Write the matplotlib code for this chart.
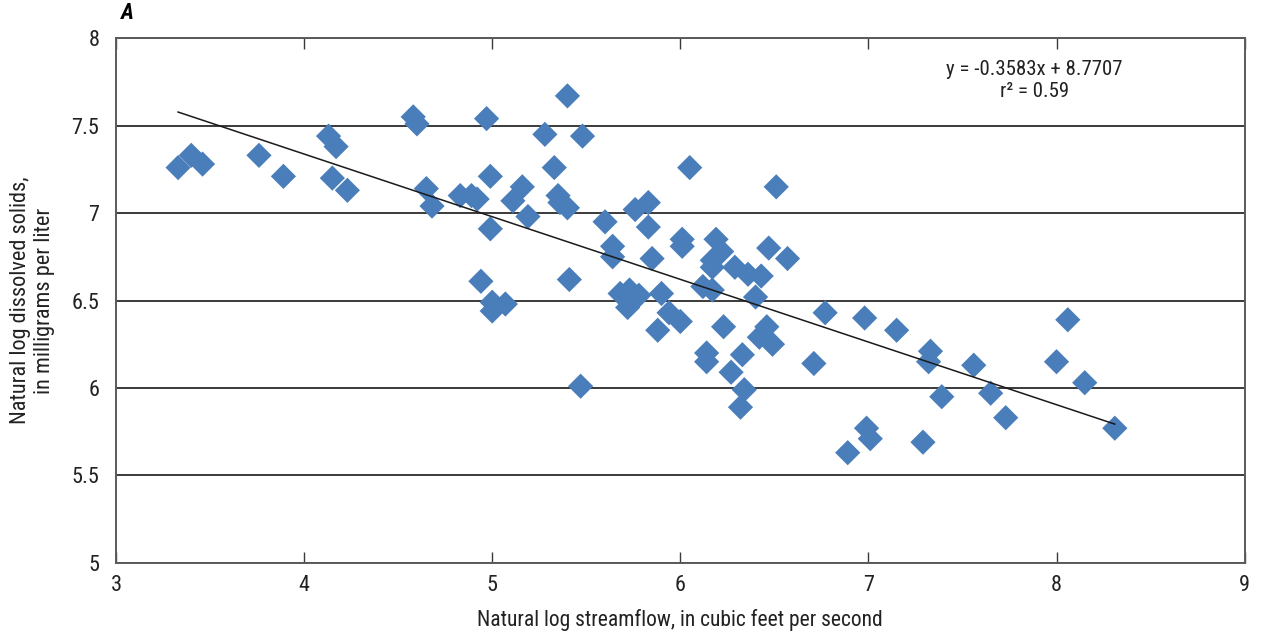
import matplotlib
matplotlib.use("Agg")
import matplotlib.pyplot as plt
from matplotlib import font_manager
import numpy as np

# the original uses a condensed sans, look for one that is installed
narrow = None
for f in font_manager.fontManager.ttflist:
    if f.name in ('Liberation Sans Narrow', 'Roboto Condensed', 'Open Sans Condensed',
                  'Noto Sans Condensed', 'DejaVu Sans Condensed'):
        narrow = (f.name, 'normal')
        break
if narrow is None:
    for f in font_manager.fontManager.ttflist:
        if f.stretch in ('condensed', 'semi-condensed') and f.name in ('DejaVu Sans', 'Roboto', 'Noto Sans', 'Open Sans'):
            narrow = (f.name, 'condensed')
            break
if narrow is None:
    narrow = ('DejaVu Sans', 'normal')
plt.rcParams['font.family'] = [narrow[0], 'DejaVu Sans']
plt.rcParams['font.stretch'] = narrow[1]

# natural log streamflow (x) and natural log dissolved solids (y)
ln_flow = [3.33, 3.40, 3.46, 3.76, 3.89, 4.13, 4.17, 4.15, 4.23, 4.58,
           4.60, 4.65, 4.68, 4.83, 4.89, 4.92, 4.97, 4.99, 4.99, 4.94,
           5.00, 5.00, 5.07, 5.40, 5.28, 5.48, 5.33, 6.05, 6.51, 5.16,
           5.11, 5.19, 5.35, 5.36, 5.40, 5.60, 5.76, 5.83, 5.83, 5.64,
           5.64, 5.85, 6.01, 6.01, 6.19, 6.22, 6.17, 6.17, 6.29, 6.36,
           6.43, 6.47, 6.57, 6.40, 6.12, 6.17, 5.41, 5.68, 5.73, 5.78,
           5.72, 5.90, 5.94, 6.00, 5.88, 6.23, 6.46, 6.42, 6.49, 6.14,
           6.14, 6.33, 6.27, 6.34, 6.32, 6.71, 6.77, 5.47, 6.98, 7.15,
           7.33, 7.32, 7.56, 7.39, 7.65, 7.73, 8.00, 8.06, 8.15, 8.31,
           6.99, 7.01, 6.89, 7.29]
ln_tds = [7.26, 7.33, 7.28, 7.33, 7.21, 7.44, 7.38, 7.20, 7.13, 7.55,
          7.51, 7.14, 7.04, 7.10, 7.10, 7.08, 7.54, 7.21, 6.91, 6.61,
          6.49, 6.44, 6.48, 7.67, 7.45, 7.44, 7.26, 7.26, 7.15, 7.15,
          7.07, 6.98, 7.10, 7.06, 7.03, 6.95, 7.02, 7.06, 6.92, 6.81,
          6.75, 6.74, 6.85, 6.81, 6.85, 6.78, 6.73, 6.69, 6.69, 6.65,
          6.64, 6.80, 6.74, 6.52, 6.58, 6.56, 6.62, 6.54, 6.56, 6.53,
          6.46, 6.54, 6.43, 6.38, 6.33, 6.35, 6.35, 6.29, 6.25, 6.20,
          6.15, 6.19, 6.09, 5.99, 5.89, 6.14, 6.43, 6.01, 6.40, 6.33,
          6.21, 6.15, 6.13, 5.95, 5.97, 5.83, 6.15, 6.39, 6.03, 5.77,
          5.77, 5.71, 5.63, 5.69]

slope = -0.3583
intercept = 8.7707
r2 = 0.59

fig = plt.figure(figsize=(12.61, 6.36), dpi=100)
ax = fig.add_axes([0.092, 0.115, 0.895, 0.825])

ax.scatter(ln_flow, ln_tds, marker='D', s=165, color='#4a7ebb',
           edgecolors='none', zorder=3)

xl = np.array([min(ln_flow), max(ln_flow)])
ax.plot(xl, slope * xl + intercept, color='#1a1a1a', lw=1.1, zorder=4)

ax.set_xlim(3, 9)
ax.set_ylim(5, 8)
ax.set_xticks(range(3, 10))
ax.set_yticks([5, 5.5, 6, 6.5, 7, 7.5, 8])
ax.set_yticklabels(['5', '5.5', '6', '6.5', '7', '7.5', '8'])
ax.grid(axis='y', color='#3a3a3a', lw=1.4, zorder=1)
ax.tick_params(axis='x', direction='in', length=8, top=True, width=1,
               color='#3a3a3a', labelsize=16, pad=9, labelcolor='#222222')
ax.tick_params(axis='y', length=0, labelsize=16, pad=12, labelcolor='#222222')
for s in ax.spines.values():
    s.set_color('#5a5a5a')
    s.set_linewidth(1.4)

ax.set_xlabel('Natural log streamflow, in cubic feet per second', fontsize=15.5,
              labelpad=9, color='#222222')
ax.set_ylabel('Natural log dissolved solids,\nin milligrams per liter',
              fontsize=16, labelpad=12, color='#222222')

ax.text(0.814, 0.958, 'y = -0.3583x + 8.7707\nr² = %.2f' % r2,
        transform=ax.transAxes, ha='center', va='top', fontsize=15,
        linespacing=1.2, color='#222222')
fig.text(0.096, 0.962, 'A', fontsize=16, fontweight='bold', style='italic',
         ha='left', va='bottom')

fig.savefig('out.png', dpi=100)
